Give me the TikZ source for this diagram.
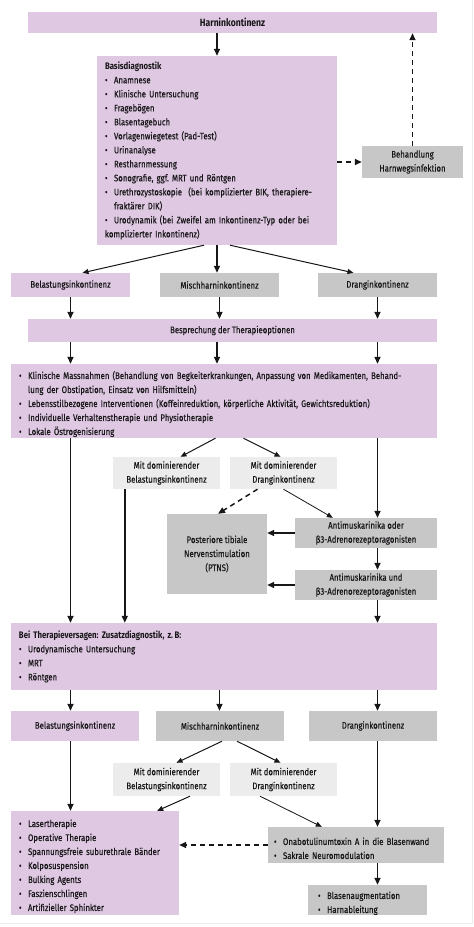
\documentclass[tikz,border=0pt]{standalone}
\usepackage{fontspec}
\setmainfont{Fira Sans}[FakeStretch=0.82, UprightFeatures={FakeBold=0.3}]
\usetikzlibrary{arrows.meta}
\hyphenpenalty=10000
\exhyphenpenalty=10000
\frenchspacing

\definecolor{purp}{RGB}{222,200,226}
\definecolor{grayb}{RGB}{199,199,199}
\definecolor{lightg}{RGB}{236,236,236}
\definecolor{framec}{RGB}{236,236,236}
\definecolor{inkc}{RGB}{25,22,25}

\newcommand{\li}{\par\noindent\hangindent=9pt\hangafter=1\makebox[9pt][l]{\textbullet}}

\tikzset{
  box/.style={rectangle, inner sep=0pt, text=inkc, font=\fontsize{9.5}{14}\selectfont, align=center},
  pbox/.style={box, fill=purp},
  gbox/.style={box, fill=grayb},
  lbox/.style={box, fill=lightg},
  listbox/.style={align=left, inner xsep=8pt, text width=#1},
  arr/.style={-{Triangle[length=7pt,width=6pt]}, line width=1.5pt, draw=inkc},
  thinarr/.style={-{Triangle[length=6pt,width=5pt]}, line width=0.8pt, draw=inkc},
  dasharr/.style={arr, dash pattern=on 5pt off 4pt}
}

\begin{document}
\begin{tikzpicture}[x=1pt, y=-1pt]
		\useasboundingbox (0,0) rectangle (474,927);
		% light frame
		\draw[framec, line width=1pt] (0,923) -- (472,923) -- (472,0);
		
		% Set the boxes of the first part
		\node[pbox, minimum width=409pt, minimum height=21pt] (harn) at (232.5,22.5) {\fontsize{10.5}{14}\selectfont\bfseries Harninkontinenz};
		\node[pbox, listbox=224pt, minimum width=240pt, minimum height=189pt] (basis) at (217,150.5) {\textbf{Basisdiagnostik}
			\li Anamnese
			\li Klinische Untersuchung
			\li Fragebögen
			\li Blasentagebuch
			\li Vorlagenwiegetest (Pad-Test)
			\li Urinanalyse
			\li Restharnmessung
			\li Sonografie, ggf. MRT und Röntgen
			\li Urethrozystoskopie\ \ (bei komplizierter BIK, therapiere-\newline fraktärer DIK)
			\li Urodynamik (bei Zweifel am Inkontinenz-Typ oder bei\newline komplizierter Inkontinenz)};
		\node[gbox, minimum width=101pt, minimum height=32pt] (uti) at (412.5,162) {Behandlung\\Harnwegsinfektion};
		
		% Set the types of the first part
		\node[pbox, minimum width=119pt, minimum height=24pt] (bel1) at (70.5,285) {Belastungsinkontinenz};
		\node[gbox, minimum width=119pt, minimum height=24pt] (misch1) at (219.5,285) {Mischharninkontinenz};
		\node[gbox, minimum width=119pt, minimum height=24pt] (drang1) at (377.5,285) {Dranginkontinenz};
		
		\node[pbox, minimum width=409pt, minimum height=23pt] (bespr) at (232.5,330.5) {Besprechung der Therapieoptionen};
		\node[pbox, listbox=410pt, minimum width=426pt, minimum height=74pt] (mass) at (224,401) {\li Klinische Massnahmen (Behandlung von Begkeiterkrankungen, Anpassung von Medikamenten, Behand-\newline lung der Obstipation, Einsatz von Hilfsmitteln)
			\li Lebensstilbezogene Interventionen (Koffeinreduktion, körperliche Aktivität, Gewichtsreduktion)
			\li Individuelle Verhaltenstherapie und Physiotherapie
			\li Lokale Östrogenisierung};
		
		% Set the boxes of the middle part
		\node[lbox, minimum width=107pt, minimum height=32pt] (dombel1) at (166.5,473) {Mit dominierender\\Belastungsinkontinenz};
		\node[lbox, minimum width=107pt, minimum height=32pt] (domdrang1) at (283.5,473) {Mit dominierender\\Dranginkontinenz};
		\node[gbox, minimum width=100pt, minimum height=80pt] (ptns) at (217,554) {Posteriore tibiale\\Nervenstimulation\\(PTNS)};
		\node[gbox, minimum width=142pt, minimum height=30pt] (anti1) at (366,533) {Antimuskarinika oder\\β3-Adrenorezeptoragonisten};
		\node[gbox, minimum width=142pt, minimum height=30pt] (anti2) at (366,585) {Antimuskarinika und\\β3-Adrenorezeptoragonisten};
		
		\node[pbox, listbox=410pt, minimum width=426pt, minimum height=67pt] (versag) at (224,656.5) {\textbf{Bei Therapieversagen: Zusatzdiagnostik, z.\,B:}
			\li Urodynamische Untersuchung
			\li MRT
			\li Röntgen};
		
		% Set the boxes of the last part
		\node[pbox, minimum width=128pt, minimum height=30pt] (bel2) at (75,726) {Belastungsinkontinenz};
		\node[gbox, minimum width=128pt, minimum height=30pt] (misch2) at (220,726) {Mischharninkontinenz};
		\node[gbox, minimum width=128pt, minimum height=30pt] (drang2) at (373,726) {Dranginkontinenz};
		\node[lbox, minimum width=107pt, minimum height=33pt] (dombel2) at (166.5,779.5) {Mit dominierender\\Belastungsinkontinenz};
		\node[lbox, minimum width=107pt, minimum height=33pt] (domdrang2) at (283.5,779.5) {Mit dominierender\\Dranginkontinenz};
		\node[pbox, listbox=152pt, minimum width=168pt, minimum height=104pt] (laser) at (95,863) {\li Lasertherapie
			\li Operative Therapie
			\li Spannungsfreie suburethrale Bänder
			\li Kolposuspension
			\li Bulking Agents
			\li Faszienschlingen
			\li Artifizieller Sphinkter};
		\node[gbox, listbox=164pt, inner xsep=6pt, minimum width=176pt, minimum height=36pt] (onabot) at (356,845) {\li Onabotulinumtoxin A in die Blasenwand
			\li Sakrale Neuromodulation};
		\node[gbox, listbox=99pt, inner xsep=10pt, minimum width=119pt, minimum height=30pt] (blasen) at (367.5,900) {\li Blasenaugmentation
			\li Harnableitung};
		
		% Connect the first part
		\draw[arr] (harn.south -| basis) -- (basis.north);
		\draw[dasharr] (basis.east |- uti) -- (uti.west);
		\draw[dasharr] (uti.north) -- (uti.north |- harn.south);
		\draw[thinarr, line width=1pt] ([xshift=-13pt]basis.south) -- ([xshift=12pt]bel1.north);
		\draw[arr] (basis.south) -- (basis.south |- misch1.north);
		\draw[thinarr, line width=1pt] ([xshift=13pt]basis.south) -- ([xshift=-24pt]drang1.north);
		\foreach \t in {bel1,misch1,drang1}
		\draw[arr] (\t.south) -- (\t.south |- bespr.north);
		\foreach \t in {bel1,basis,drang1}
		\draw[arr] (bespr.south -| \t) -- (mass.north -| \t);
		
		% Connect the middle part
		\draw[arr] (mass.south -| bel1) -- (versag.north -| bel1);
		\draw[arr] (mass.south -| drang1) -- (anti1.north -| drang1);
		\draw[thinarr, line width=1pt] ([xshift=-4pt]mass.south -| misch1) -- ([xshift=14pt]dombel1.north);
		\draw[thinarr, line width=1pt] ([xshift=24pt]mass.south -| misch1) -- ([xshift=-3pt]domdrang1.north);
		\coordinate (dbl) at ([xshift=12pt]dombel1.south west);
		\draw[arr] (dbl) -- (dbl |- versag.north);
		\draw[dasharr] ([xshift=-26pt]domdrang1.south) -- ([xshift=1pt]ptns.north);
		\draw[thinarr] (domdrang1.south) -- ([xshift=38pt]anti1.north west);
		\draw[arr] (anti1.west) -- (ptns.east |- anti1.west);
		\draw[arr] (anti1.south -| drang1) -- (anti2.north -| drang1);
		\draw[arr] (anti2.west) -- (ptns.east |- anti2.west);
		\draw[arr] (anti2.south -| drang1) -- (versag.north -| drang1);
		
		% Connect the last part
		\foreach \t in {bel1,misch1,drang1}
		\draw[arr] (versag.south -| \t) -- (bel2.north -| \t);
		\draw[arr] (bel2.south -| bel1) -- (laser.north -| bel1);
		\draw[thinarr, line width=1pt] ([xshift=2pt]misch2.south) -- ([xshift=10pt]dombel2.north);
		\draw[thinarr, line width=1pt] ([xshift=17pt]misch2.south) -- ([xshift=-3pt]domdrang2.north);
		\draw[arr] (drang2.south -| drang1) -- (onabot.north -| drang1);
		\draw[thinarr, line width=1pt] ([xshift=23.5pt]dombel2.south) -- ([xshift=-22pt]laser.north east);
		\draw[thinarr] ([xshift=-23.5pt]domdrang2.south) -- ([xshift=54pt]onabot.north west);
		\draw[dasharr] (onabot.west) -- (laser.east |- onabot.west);
		\draw[arr] (onabot.south -| drang1) -- (blasen.north -| drang1);
		
	\end{tikzpicture}
\end{document}
